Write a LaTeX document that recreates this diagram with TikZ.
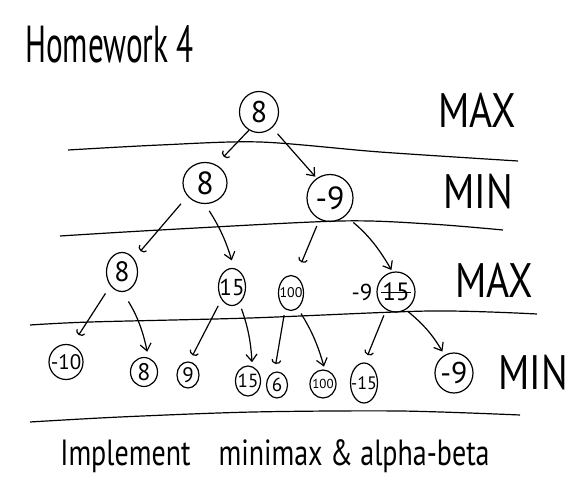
\documentclass[tikz,border=0pt]{standalone}
\usepackage{fontspec}
\setmainfont{PT Sans}
\usetikzlibrary{shapes.geometric, arrows.meta, positioning}

\newcommand{\nm}[1]{\makebox[0pt]{#1}}
\newcommand{\crossed}[1]{\makebox[0pt]{#1}\makebox[0pt]{\rule[0.3em]{1.2em}{0.9pt}}}

\begin{document}
\begin{tikzpicture}[x=1pt, y=-1pt, line width=1.2pt,
	nd/.style={draw, ellipse, inner sep=0pt},
	fs/.style={font=\fontsize{#1}{#1}\selectfont},
	sz/.style 2 args={minimum width=#1pt, minimum height=#2pt},
	arr/.style={-{Straight Barb[length=7pt, width=11pt]}},
	hk/.style={-{Arc Barb[length=4pt, width=10pt]}},
	lvl/.style={fs=44, xscale=0.9, yscale=1.1}]
	\useasboundingbox (0,0) rectangle (582,495);

	% Title and level names
	\node[fs=40, xscale=0.78, yscale=1.3, anchor=base west] (title) at (22,63) {Homework 4};
	\node[lvl] (lmax1) at (477,110) {MAX};
	\node[lvl] (lmin1) at (478,192) {MIN};
	\node[lvl] (lmax2) at (494,280) {MAX};
	\node[lvl] (lmin2) at (533,373) {MIN};

	% Separators between levels
	\draw plot[smooth] coordinates {(68,150) (160,145) (260,142) (380,152) (518,161)};
	\draw plot[smooth] coordinates {(60,236) (160,230) (340,221) (430,224) (503,230)};
	\draw plot[smooth] coordinates {(30,325) (90,322) (250,318) (430,311) (537,314)};
	\draw plot[smooth] coordinates {(30,422) (120,417) (253,412) (400,411) (520,415)};

	% Tree
	\node[nd, sz={39}{41}, fs=30] (root) at (259,112) {\nm{8}};
	\node[nd, sz={44}{41}, fs=32] (mn1) at (205,183) {\nm{8}};
	\node[nd, sz={46}{47}, fs=32] (mn2) at (330,198) {\nm{-9}};
	\node[nd, sz={31}{39}, fs=28] (mx1) at (122,272) {\nm{8}};
	\node[nd, sz={27}{37}, fs=23] (mx2) at (232,287) {\nm{15}};
	\node[nd, sz={25}{35}, fs=14] (mx3) at (291,293) {\nm{100}};
	\node[nd, sz={38}{40}, fs=25] (mx4) at (396,292) {\crossed{15}};
	\node[fs=23, left=0pt of mx4] (mx4val) {-9};

	% Leaves
	\node[nd, sz={34}{35}, fs=21] (lf1) at (66,362) {\nm{-10}};
	\node[nd, sz={27}{29}, fs=24] (lf2) at (144,372) {\nm{8}};
	\node[nd, sz={22}{26}, fs=21] (lf3) at (188,375) {\nm{9}};
	\node[nd, sz={25}{30}, fs=19] (lf4) at (248,381) {\nm{15}};
	\node[nd, sz={21}{26}, fs=19] (lf5) at (277,385) {\nm{6}};
	\node[nd, sz={26}{28}, fs=13] (lf6) at (323,384) {\nm{100}};
	\node[nd, sz={27}{40}, fs=18] (lf7) at (364,383) {\nm{-15}};
	\node[nd, sz={38}{40}, fs=30] (lf8) at (454,373) {\nm{-9}};

	\draw[hk, shorten >=11pt] (root.-119) -- (mn1.59);
	\draw[arr, shorten <=8pt, shorten >=2pt] (root.-50) -- (mn2.124);
	\draw[hk, shorten <=10pt, shorten >=10pt] (mn1.-143) -- (mx1.48);
	\draw[arr, shorten <=8pt, shorten >=8pt] (mn1.-90) to[bend left=8] (mx2.84);
	\draw[hk, shorten <=7pt, shorten >=15pt] (mn2.-116) -- (mx3.74);
	\draw[arr, shorten <=10pt, shorten >=2pt] (mn2.-49) to[bend left=10] (mx4.100);
	\draw[hk, shorten <=9pt, shorten >=12pt] (mx1.-130) -- (lf1.70);
	\draw[arr, shorten <=11pt, shorten >=6pt] (mx1.-88) to[bend left=10] (lf2.73);
	\draw[hk, shorten <=7pt, shorten >=7pt] (mx2.-130) -- (lf3.84);
	\draw[arr, shorten <=6pt, shorten >=4pt] (mx2.-65) to[bend left=8] (lf4.74);
	\draw[hk, shorten <=6pt, shorten >=8pt] (mx3.-110) -- (lf5.101);
	\draw[arr, shorten <=6pt, shorten >=3pt] (mx3.-66) to[bend left=8] (lf6.83);
	\draw[hk, shorten <=6pt, shorten >=8pt] (mx4.-119) -- (lf7.88);
	\draw[arr, shorten <=3pt, shorten >=4pt] (mx4.-61) to[bend left=10] (lf8.118);

	% Task line
	\node[fs=28, yscale=1.3, anchor=base] (task) at (275,465) {Implement\hspace{28pt}minimax \& alpha-beta};
\end{tikzpicture}
\end{document}
